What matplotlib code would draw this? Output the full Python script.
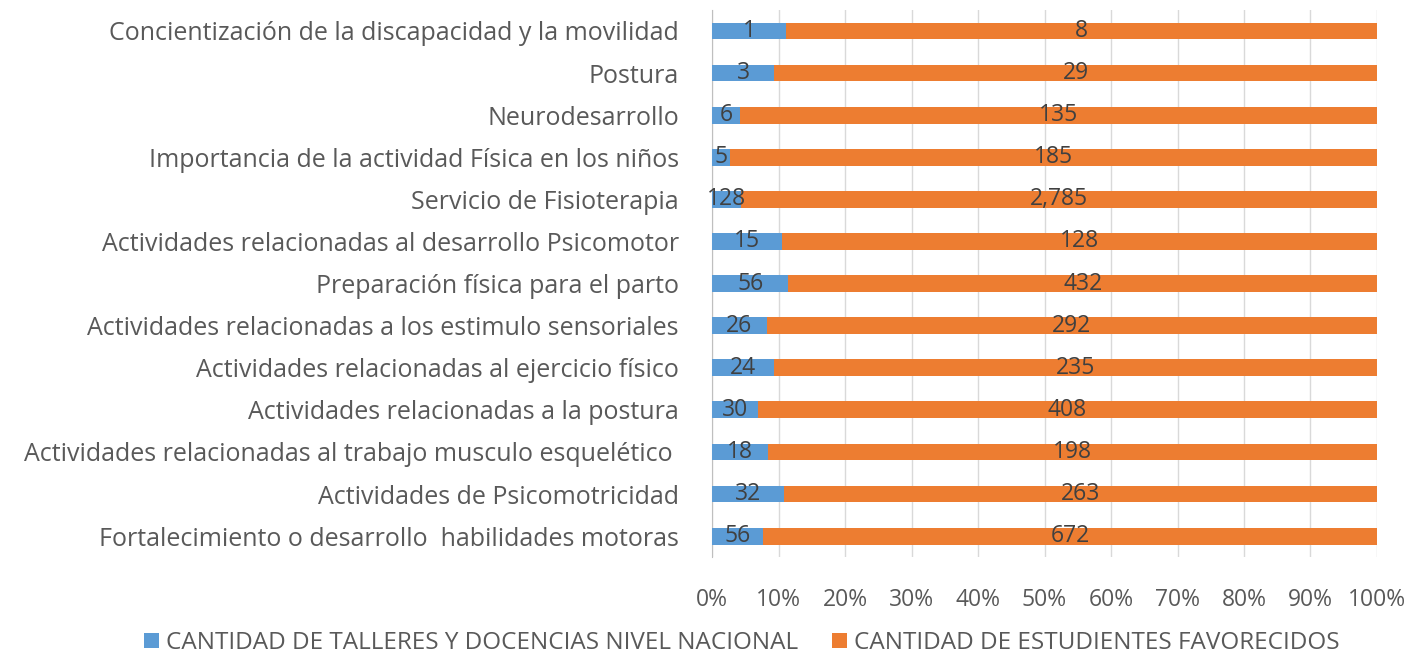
import matplotlib
matplotlib.use("Agg")
import matplotlib.pyplot as plt
import numpy as np
from matplotlib.ticker import PercentFormatter

categories = [
    "Concientización de la discapacidad y la movilidad",
    "Postura",
    "Neurodesarrollo",
    "Importancia de la actividad Física en los niños",
    "Servicio de Fisioterapia",
    "Actividades relacionadas al desarrollo Psicomotor",
    "Preparación física para el parto",
    "Actividades relacionadas a los estimulo sensoriales",
    "Actividades relacionadas al ejercicio físico",
    "Actividades relacionadas a la postura",
    "Actividades relacionadas al trabajo musculo esquelético ",
    "Actividades de Psicomotricidad",
    "Fortalecimiento o desarrollo  habilidades motoras",
]
talleres = [1, 3, 6, 5, 128, 15, 56, 26, 24, 30, 18, 32, 56]
estudiantes = [8, 29, 135, 185, 2785, 128, 432, 292, 235, 408, 198, 263, 672]
series_names = ["CANTIDAD DE TALLERES Y DOCENCIAS NIVEL NACIONAL",
                "CANTIDAD DE ESTUDIENTES FAVORECIDOS"]

plt.rcParams['font.family'] = ['Open Sans', 'DejaVu Sans']

t = np.array(talleres, float)
e = np.array(estudiantes, float)
tot = t + e
tp = t / tot
ep = e / tot

fig = plt.figure(figsize=(14.13, 6.61), dpi=100)
ax = fig.add_axes([0.504, 0.157, 0.4705, 0.828])

y = np.arange(len(categories))[::-1]
blue = "#5B9BD5"
orange = "#ED7D31"
b1 = ax.barh(y, tp, height=0.4, color=blue, label=series_names[0], zorder=3)
b2 = ax.barh(y, ep, left=tp, height=0.4, color=orange, label=series_names[1], zorder=3)

lc = "#404040"
for yi, a, b, tv, ev in zip(y, tp, ep, talleres, estudiantes):
    ax.text(a / 2, yi, f"{tv:,}", ha="center", va="center", fontsize=16.5, color=lc, zorder=4)
    ax.text(a + b / 2, yi, f"{ev:,}", ha="center", va="center", fontsize=16.5, color=lc, zorder=4)

ax.set_xlim(0, 1)
ax.set_ylim(-0.5, len(categories) - 0.5)
ax.set_xticks(np.linspace(0, 1, 11))
ax.xaxis.set_major_formatter(PercentFormatter(1.0, decimals=0))
ax.set_yticks(y)
ax.set_yticklabels(categories)
ax.grid(axis="x", color="#D9D9D9", linewidth=1, zorder=0)
for s in ["top", "right", "bottom"]:
    ax.spines[s].set_visible(False)
ax.spines["left"].set_color("#BFBFBF")
ax.tick_params(axis="y", length=0, labelsize=18, labelcolor="#595959", pad=24)
ax.tick_params(axis="x", length=0, labelsize=16.5, labelcolor="#595959", pad=22)

fig.legend(handles=[b1, b2], loc="center", bbox_to_anchor=(0.525, 0.027), ncol=2,
           frameon=False, fontsize=17.5, labelcolor="#595959", handlelength=0.6,
           handleheight=0.6, handletextpad=0.3, columnspacing=1.4)

fig.savefig("out.png", dpi=100)
